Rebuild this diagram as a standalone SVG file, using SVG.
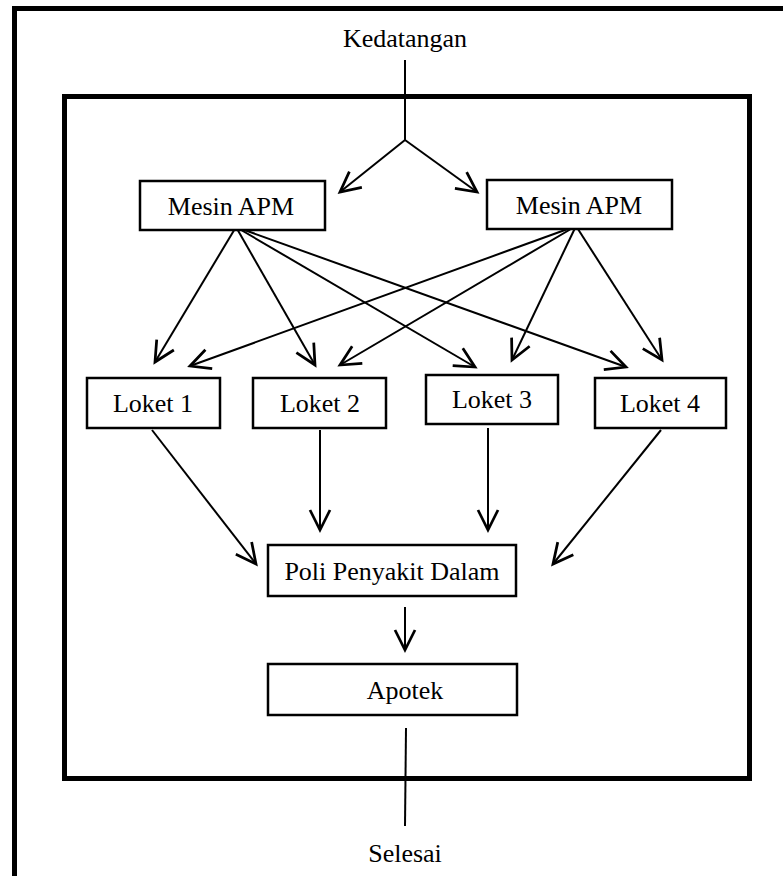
<svg xmlns="http://www.w3.org/2000/svg" width="783" height="876" viewBox="0 0 783 876">
<style>
.box{fill:#fff;stroke:#000;stroke-width:2.5}
.frame{fill:none;stroke:#000;stroke-width:5}
text{font-family:'Liberation Serif',serif;font-size:26px;fill:#000;text-anchor:middle}
.c{fill:none;stroke:#000;stroke-width:2}
.a{fill:none;stroke:#000;stroke-width:2;marker-end:url(#ah)}
</style>
<defs>
<marker id="ah" markerUnits="userSpaceOnUse" markerWidth="30" markerHeight="30" viewBox="-20 -10 24 20" refX="0" refY="0" orient="auto">
<path d="M-16,-8 L0,0 L-16,8" fill="none" stroke="#000" stroke-width="2.2"/>
</marker>
</defs>
<rect width="783" height="876" fill="#fff"/>
<g id="frames">
<path class="frame" d="M14.5,880 V8.5 H790"/>
<rect class="frame" x="64.5" y="96.5" width="685" height="682"/>
</g>
<g id="connectors">
<path class="c" d="M405,60 V140"/>
<path class="a" d="M405,140 L340,192"/>
<path class="a" d="M405,140 L477,192"/>
<path class="a" d="M236,227 L155,362"/>
<path class="a" d="M236,227 L315,365"/>
<path class="a" d="M236,227 L475,367"/>
<path class="a" d="M236,227 L626,367"/>
<path class="a" d="M576,226 L190,366"/>
<path class="a" d="M576,226 L340,365"/>
<path class="a" d="M576,226 L512,360"/>
<path class="a" d="M576,226 L662,360"/>
<path class="a" d="M152,430 L256,564"/>
<path class="a" d="M320,430 V530"/>
<path class="a" d="M488,428 V530"/>
<path class="a" d="M661,430 L553,564"/>
<path class="a" d="M405,607 V650"/>
<path class="c" d="M406,728 L405,826"/>
</g>
<g id="kedatangan"><text x="405" y="47">Kedatangan</text></g>
<g id="mesin1"><rect class="box" x="140" y="181" width="185" height="49"/><text x="231" y="215">Mesin APM</text></g>
<g id="mesin2"><rect class="box" x="487" y="180" width="185" height="49"/><text x="579" y="214">Mesin APM</text></g>
<g id="loket1"><rect class="box" x="87" y="378" width="133" height="50"/><text x="153" y="412">Loket 1</text></g>
<g id="loket2"><rect class="box" x="253" y="378" width="133" height="50"/><text x="320" y="412">Loket 2</text></g>
<g id="loket3"><rect class="box" x="426" y="375" width="132" height="49"/><text x="492" y="408">Loket 3</text></g>
<g id="loket4"><rect class="box" x="595" y="378" width="131" height="50"/><text x="660" y="412">Loket 4</text></g>
<g id="poli"><rect class="box" x="268" y="545" width="248" height="51"/><text x="392" y="580">Poli Penyakit Dalam</text></g>
<g id="apotek"><rect class="box" x="268" y="664" width="249" height="51"/><text x="405" y="699">Apotek</text></g>
<g id="selesai"><text x="405" y="862">Selesai</text></g>
</svg>
